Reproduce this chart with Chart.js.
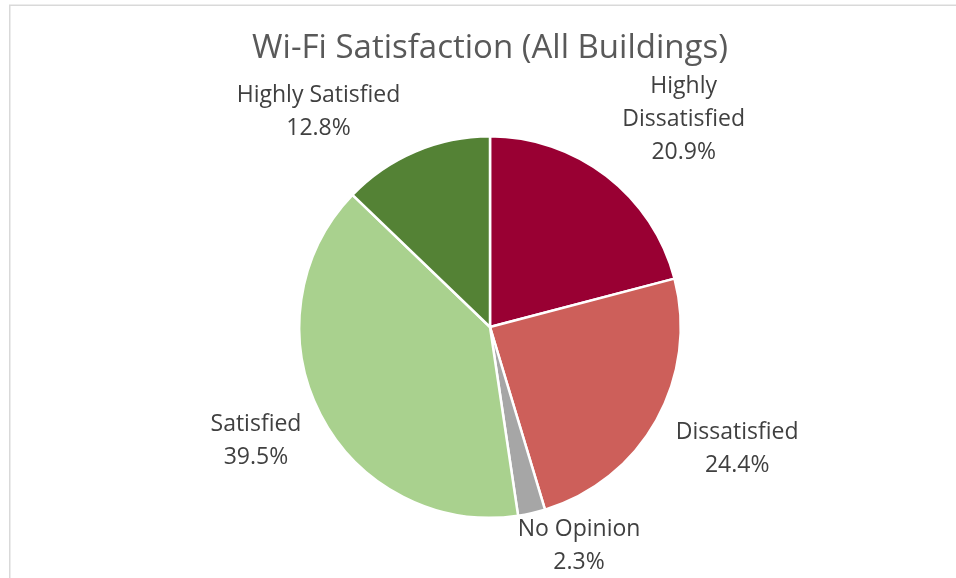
<!DOCTYPE html>
<html>
<head>
<meta charset="utf-8">
<script src="https://cdn.jsdelivr.net/npm/chart.js@4.4.1/dist/chart.umd.min.js"></script>
<style>
html,body{margin:0;padding:0;background:#fff;}
#wrap{width:956px;height:578px;position:relative;}
</style>
</head>
<body>
<div id="wrap"><canvas id="c" width="956" height="578"></canvas></div>
<script>
const categories = ["Highly Dissatisfied", "Dissatisfied", "No Opinion", "Satisfied", "Highly Satisfied"];
const labelLines = [["Highly", "Dissatisfied"], ["Dissatisfied"], ["No Opinion"], ["Satisfied"], ["Highly Satisfied"]];
const percentages = [20.9, 24.4, 2.3, 39.5, 12.8];
const colors = ["#990033", "#CD5F5A", "#A6A6A6", "#A9D18E", "#548235"];

// label placement relative to each slice: angle shift (deg) and distance as multiple of radius
const labelPlacement = [
  {dA: 5.4, rf: 1.487},
  {dA: -3, rf: 1.445},
  {dA: -9.5, rf: 1.24},
  {dA: 1.3, rf: 1.365},
  {dA: -15.5, rf: 1.442}
];

const FONT = "'Open Sans', Lato, sans-serif";

const frame = {
  id: 'frame',
  beforeDraw(chart) {
    const ctx = chart.ctx;
    ctx.save();
    ctx.fillStyle = '#fff';
    ctx.fillRect(0, 0, chart.width, chart.height);
    ctx.strokeStyle = '#D9D9D9';
    ctx.lineWidth = 1.5;
    ctx.strokeRect(9.75, 5.25, 2000, 2000);
    ctx.restore();
  }
};

const sliceLabels = {
  id: 'sliceLabels',
  afterDraw(chart) {
    const ctx = chart.ctx;
    const meta = chart.getDatasetMeta(0);
    ctx.save();
    ctx.font = "23px " + FONT;
    ctx.fillStyle = '#404040';
    ctx.textAlign = 'center';
    ctx.textBaseline = 'middle';
    const lh = 33;
    meta.data.forEach((arc, i) => {
      const p = arc.getProps(['x', 'y', 'startAngle', 'endAngle', 'outerRadius'], true);
      const mid = (p.startAngle + p.endAngle) / 2 + labelPlacement[i].dA * Math.PI / 180;
      const r = p.outerRadius * labelPlacement[i].rf;
      const cx = p.x + Math.cos(mid) * r;
      const cy = p.y + Math.sin(mid) * r;
      const lines = labelLines[i].concat([percentages[i].toFixed(1) + '%']);
      const y0 = cy - (lines.length - 1) * lh / 2;
      lines.forEach((t, k) => ctx.fillText(t, cx, y0 + k * lh));
    });
    ctx.restore();
  }
};

new Chart(document.getElementById('c'), {
  type: 'pie',
  data: {
    labels: categories,
    datasets: [{
      data: percentages,
      backgroundColor: colors,
      borderColor: '#FFFFFF',
      borderWidth: 2.5,
      hoverOffset: 0
    }]
  },
  options: {
    responsive: false,
    animation: false,
    events: [],
    layout: { padding: { top: 29, bottom: 59, left: 24, right: 0 } },
    plugins: {
      legend: { display: false },
      tooltip: { enabled: false },
      title: {
        display: true,
        text: 'Wi-Fi Satisfaction (All Buildings)',
        color: '#595959',
        font: { family: FONT, size: 33, weight: 'normal', lineHeight: 1.2 },
        padding: { top: 0, bottom: 66.4 }
      }
    }
  },
  plugins: [frame, sliceLabels]
});
</script>
</body>
</html>
